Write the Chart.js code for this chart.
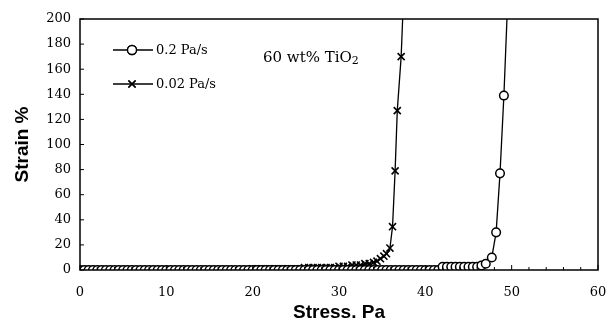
<!DOCTYPE html>
<html>
<head>
<meta charset="utf-8">
<script src="https://cdn.jsdelivr.net/npm/chart.js@4/dist/chart.umd.min.js"></script>
<style>
  html, body { margin: 0; padding: 0; background: #fff; }
  #wrap { width: 608px; height: 326px; }
</style>
</head>
<body>
<div id="wrap"><canvas id="chart" width="608" height="326"></canvas></div>
<script>
// 0.02 Pa/s series (crosses)
const slowStress = [0,0.5,1,1.5,2,2.5,3,3.5,4,4.5,5,5.5,6,6.5,7,7.5,8,8.5,9,9.5,
  10,10.5,11,11.5,12,12.5,13,13.5,14,14.5,15,15.5,16,16.5,17,17.5,18,18.5,19,19.5,
  20,20.5,21,21.5,22,22.5,23,23.5,24,24.5,25,25.5,26,26.5,27,27.5,28,28.5,29,29.5,
  30,30.5,31,31.5,32,32.5,33,33.5,34,34.4,34.8,35.2,35.5,35.9,36.2,36.5,36.75,37.2,37.6];
const slowStrain = [0,0,0,0,0,0,0,0,0,0,0,0,0,0,0,0,0,0,0,0,
  0,0,0,0,0,0,0,0,0,0,0,0,0,0,0,0,0,0,0,0,
  1,1,1,1,1,1,1,1,1,1,1,1,2,2,2,2,2,2,2,2,
  3,3,3,4,4,4,5,5,6,7,9,11,13,17.5,34.5,79,127,170,240];

// 0.2 Pa/s series (circles)
const fastStress = [0,0.5,1,1.5,2,2.5,3,3.5,4,4.5,5,5.5,6,6.5,7,7.5,8,8.5,9,9.5,
  10,10.5,11,11.5,12,12.5,13,13.5,14,14.5,15,15.5,16,16.5,17,17.5,18,18.5,19,19.5,
  20,20.5,21,21.5,22,22.5,23,23.5,24,24.5,25,25.5,26,26.5,27,27.5,28,28.5,29,29.5,
  30,30.5,31,31.5,32,32.5,33,33.5,34,34.5,35,35.5,36,36.5,37,37.5,38,38.5,39,39.5,
  40,40.5,41,41.5,42,42.5,43,43.5,44,44.5,45,45.5,46,46.5,47,47.7,48.2,48.65,49.1,49.6];
const fastStrain = [0,0,0,0,0,0,0,0,0,0,0,0,0,0,0,0,0,0,0,0,
  0,0,0,0,0,0,0,0,0,0,0,0,0,0,0,0,0,0,0,0,
  0,0,0,0,0,0,0,0,0,0,0,0,0,0,0,0,0,0,0,0,
  0,0,0,0,0,0,0,0,0,0,0,0,0,0,0,0,0,0,0,0,
  0,0,0,0,2.5,2.5,2.5,2.5,2.5,2.5,2.5,2.5,2.5,3.5,5,10,30,77,139,225];

const xTicks = [0, 10, 20, 30, 40, 50, 60];
const yTicks = [0, 20, 40, 60, 80, 100, 120, 140, 160, 180, 200];
const seriesLabels = ['0.2 Pa/s', '0.02 Pa/s'];

function toPoints(xs, ys) {
  return xs.map((x, i) => ({ x: x, y: ys[i] }));
}

const serif = "'DejaVu Serif', 'Liberation Serif', serif";
const sans = "'Liberation Sans', Arial, sans-serif";

// box, inward ticks, legend and annotation
const decor = {
  id: 'decor',
  afterDraw(chart) {
    const ctx = chart.ctx;
    const a = chart.chartArea;
    const xs = chart.scales.x;
    const ys = chart.scales.y;
    ctx.save();
    ctx.strokeStyle = '#000';
    ctx.lineWidth = 1.5;
    ctx.strokeRect(a.left, a.top, a.right - a.left, a.bottom - a.top);

    ctx.lineWidth = 1;
    ctx.beginPath();
    for (let v = 0; v <= 60; v += 2) {
      const px = xs.getPixelForValue(v);
      const len = v % 10 === 0 ? 5 : 3;
      ctx.moveTo(px, a.bottom);
      ctx.lineTo(px, a.bottom - len);
    }
    yTicks.forEach(v => {
      const py = ys.getPixelForValue(v);
      ctx.moveTo(a.left, py);
      ctx.lineTo(a.left + 4, py);
    });
    ctx.stroke();

    // legend
    const items = [
      { y: 50, style: 'circle', r: 4.5 },
      { y: 84, style: 'crossRot', r: 5 }
    ];
    items.forEach((it, i) => {
      ctx.strokeStyle = '#000';
      ctx.lineWidth = 1.4;
      ctx.beginPath();
      ctx.moveTo(113, it.y);
      ctx.lineTo(153, it.y);
      ctx.stroke();
      ctx.fillStyle = '#fff';
      Chart.helpers.drawPoint(ctx, { pointStyle: it.style, radius: it.r, borderWidth: 1.4 }, 132, it.y);
      if (it.style === 'circle') ctx.fill();
      ctx.stroke();
      ctx.fillStyle = '#000';
      ctx.font = '13px ' + serif;
      ctx.textBaseline = 'middle';
      ctx.textAlign = 'left';
      ctx.fillText(seriesLabels[i], 156, it.y + 1);
    });

    // annotation
    ctx.font = '15px ' + serif;
    ctx.textBaseline = 'alphabetic';
    const main = '60 wt% TiO';
    ctx.fillText(main, 263, 62);
    const w = ctx.measureText(main).width;
    ctx.font = '11px ' + serif;
    ctx.fillText('2', 263 + w, 64);
    ctx.restore();
  }
};

new Chart(document.getElementById('chart'), {
  type: 'scatter',
  data: {
    datasets: [
      {
        label: seriesLabels[0],
        data: toPoints(fastStress, fastStrain),
        showLine: true,
        borderColor: '#000',
        borderWidth: 1.3,
        pointStyle: 'circle',
        pointRadius: 4.3,
        pointBorderWidth: 1.5,
        pointBackgroundColor: '#fff',
        pointBorderColor: '#000',
        tension: 0
      },
      {
        label: seriesLabels[1],
        data: toPoints(slowStress, slowStrain),
        showLine: true,
        borderColor: '#000',
        borderWidth: 1.3,
        pointStyle: 'crossRot',
        pointRadius: 5,
        pointBorderWidth: 1.6,
        pointBorderColor: '#000',
        tension: 0
      }
    ]
  },
  options: {
    responsive: false,
    animation: false,
    layout: { padding: { top: 19, right: 10, left: 4, bottom: 0 } },
    plugins: {
      legend: { display: false },
      tooltip: { enabled: false }
    },
    scales: {
      x: {
        type: 'linear',
        min: 0,
        max: 60,
        afterBuildTicks: s => { s.ticks = xTicks.map(v => ({ value: v })); },
        afterFit: s => { s.height = 56; s.paddingLeft = 0; s.paddingRight = 0; },
        grid: { display: false, drawTicks: false },
        border: { display: false },
        ticks: { color: '#000', padding: 15, maxRotation: 0, font: { family: serif, size: 13 } },
        title: {
          display: true,
          text: 'Stress. Pa',
          color: '#000',
          padding: { top: 2, bottom: 2 },
          font: { family: sans, size: 19, weight: 'bold' }
        }
      },
      y: {
        type: 'linear',
        min: 0,
        max: 200,
        afterBuildTicks: s => { s.ticks = yTicks.map(v => ({ value: v })); },
        afterFit: s => { s.width = 76; s.paddingTop = 0; s.paddingBottom = 0; },
        grid: { display: false, drawTicks: false },
        border: { display: false },
        ticks: { color: '#000', padding: 9, font: { family: serif, size: 13 } },
        title: {
          display: true,
          text: 'Strain %',
          color: '#000',
          padding: { top: 7, bottom: 0 },
          font: { family: sans, size: 19, weight: 'bold' }
        }
      }
    }
  },
  plugins: [decor]
});
</script>
</body>
</html>
